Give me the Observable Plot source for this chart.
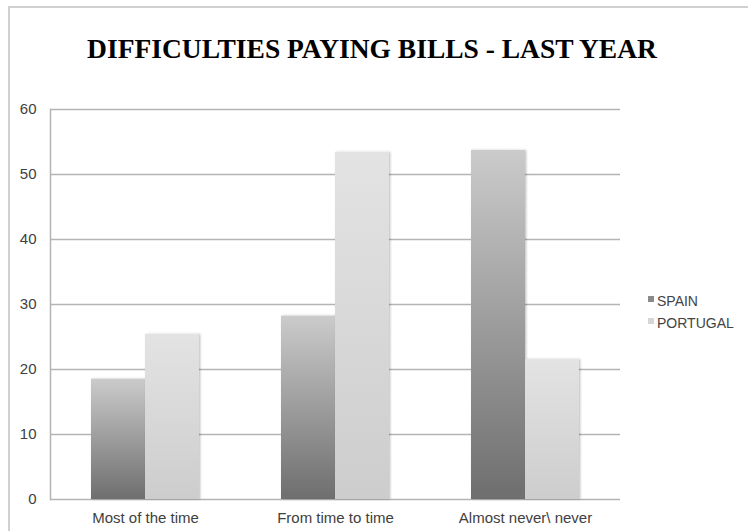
<!DOCTYPE html>
<html><head><meta charset="utf-8">
<script src="https://cdn.jsdelivr.net/npm/d3@7"></script>
<script src="https://cdn.jsdelivr.net/npm/@observablehq/plot@0.6"></script>
<style>
html,body{margin:0;padding:0;background:#fff;}
#wrap{position:relative;width:748px;height:531px;overflow:hidden;font-family:"Liberation Sans",Arial,sans-serif;}
#frame{position:absolute;left:8px;top:6px;width:800px;height:600px;border:2px solid #d0d0d0;box-sizing:border-box;}
#title{position:absolute;left:0;top:35px;width:744px;text-align:center;font-family:"Liberation Serif","Times New Roman",serif;font-weight:bold;font-size:27.5px;line-height:1;color:#000;white-space:nowrap;}
#chart{position:absolute;left:0;top:80px;}
#legend{position:absolute;left:648px;top:290px;font-size:14px;color:#444;line-height:22px;}
#legend .it{display:flex;align-items:center;}
#legend .sw{width:6px;height:6px;margin-right:3px;margin-top:-4px;}
</style></head>
<body>
<div id="wrap">
  <div id="frame"></div>
  <div id="title"></div>
  <div id="chart"></div>
  <div id="legend"></div>
</div>
<script>
const title = "DIFFICULTIES PAYING BILLS - LAST YEAR";
const categories = ["Most of the time", "From time to time", "Almost never\\ never"];
const series = ["SPAIN", "PORTUGAL"];
const spain = [18.5, 28.2, 53.7];
const portugal = [25.4, 53.4, 21.5];
const yTicks = [0, 10, 20, 30, 40, 50, 60];
const swatchColors = ["#8a8a8a", "#d6d6d6"];

document.getElementById("title").textContent = title;

const rows = categories.flatMap((c, i) => [
  {category: c, series: series[0], value: spain[i]},
  {category: c, series: series[1], value: portugal[i]}
]);

const chart = Plot.plot({
  width: 748,
  height: 451,
  marginLeft: 49,
  marginRight: 127,
  marginTop: 29,
  marginBottom: 32,
  style: {fontFamily: "'Liberation Sans', Arial, sans-serif", fontSize: "15px", color: "#404040", background: "transparent", overflow: "visible"},
  facet: {data: rows, x: "category"},
  fx: {domain: categories, padding: 0, label: null, tickSize: 0, tickPadding: 13},
  x: {domain: series, paddingInner: 0, paddingOuter: 0.75, axis: null},
  y: {domain: [0, 60], ticks: yTicks, label: null, tickSize: 0, tickPadding: 14},
  color: {domain: series, range: ["url(#gSpain)", "url(#gPortugal)"]},
  marks: [
    Plot.ruleY(yTicks, {stroke: "#b4b4b4", strokeWidth: 1.3}),
    Plot.barY(rows, {x: "series", y: "value", fill: "series", inset: 0}),
    Plot.frame({anchor: "left", facetAnchor: "left", stroke: "#b4b4b4", strokeWidth: 1.5})
  ]
});

const svg = d3.select(chart);
const defs = svg.insert("defs", ":first-child");
function grad(id, top, bottom) {
  const g = defs.append("linearGradient").attr("id", id).attr("x1", 0).attr("y1", 0).attr("x2", 0).attr("y2", 1);
  g.append("stop").attr("offset", "0%").attr("stop-color", top);
  g.append("stop").attr("offset", "100%").attr("stop-color", bottom);
}
grad("gSpain", "#cbcbcb", "#6e6e6e");
grad("gPortugal", "#e3e3e3", "#cdcdcd");
const f = defs.append("filter").attr("id", "shadow").attr("x", "-10%").attr("y", "-10%").attr("width", "130%").attr("height", "130%");
f.append("feDropShadow").attr("dx", 1.2).attr("dy", 0).attr("stdDeviation", 0.8).attr("flood-color", "#000").attr("flood-opacity", 0.25);
svg.selectAll("g[aria-label='bar'] rect").attr("filter", "url(#shadow)");

document.getElementById("chart").appendChild(chart);

const legend = d3.select("#legend");
series.forEach((s, i) => {
  const it = legend.append("div").attr("class", "it");
  it.append("div").attr("class", "sw").style("background", swatchColors[i]);
  it.append("span").text(s);
});
</script>
</body></html>
